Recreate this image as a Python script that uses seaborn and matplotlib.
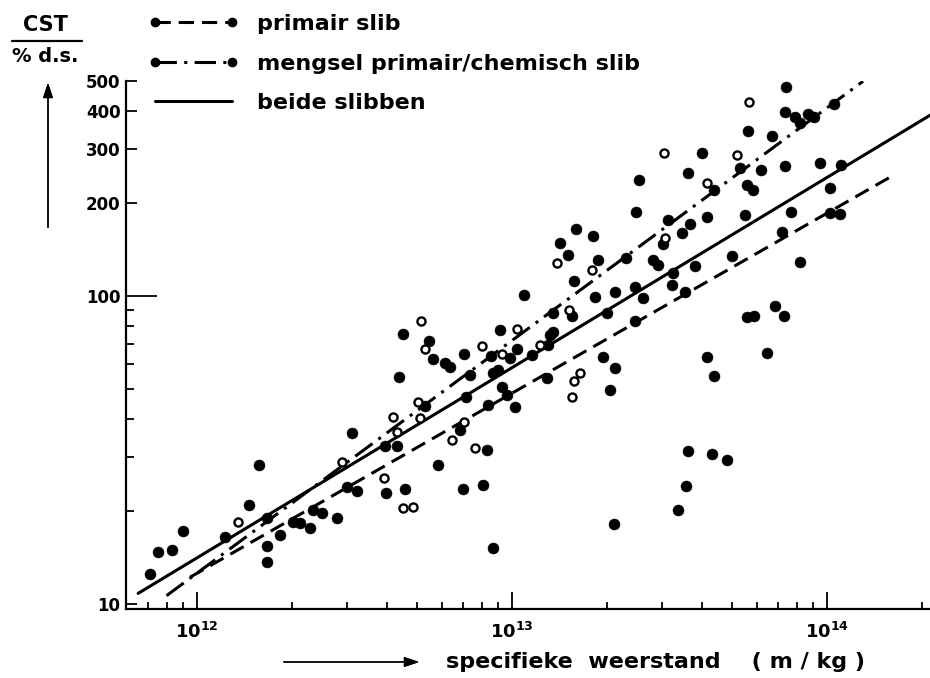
import matplotlib
matplotlib.use("Agg")
import numpy as np
import pandas as pd
import matplotlib.pyplot as plt
from matplotlib.lines import Line2D
from matplotlib.ticker import FixedLocator, FixedFormatter, NullFormatter
import seaborn as sns

# Meetpunten: specifieke weerstand (m/kg) en CST per % d.s. (gevulde punten)
weerstand_vol = [
    7.1e11, 7.5e11, 8.3e11, 9.05e11, 1.23e12, 1.46e12, 1.57e12, 1.67e12, 1.67e12, 1.67e12,
    1.83e12, 2.02e12, 2.12e12, 2.28e12, 2.34e12, 2.49e12, 2.79e12, 3.00e12, 3.21e12, 3.10e12,
    3.97e12, 3.95e12, 4.36e12, 4.31e12, 1.50e13, 1.88e13, 2.30e13, 2.80e13, 2.91e13, 1.57e13,
    1.09e13, 1.83e13, 2.12e13, 2.46e13, 2.61e13, 3.24e13, 3.21e13, 1.35e13, 1.55e13, 2.00e13,
    2.46e13, 4.52e12, 9.16e12, 1.35e13, 1.32e13, 5.46e12, 7.06e12, 8.58e12, 9.86e12, 1.035e13,
    1.155e13, 1.30e13, 5.60e12, 6.13e12, 6.36e12, 1.95e13, 2.12e13, 7.36e12, 8.72e12, 9.05e12,
    1.29e13, 9.28e12, 9.62e12, 7.15e12, 1.02e13, 2.04e13, 5.30e12, 8.41e12, 6.84e12, 8.31e12,
    5.83e12, 4.57e12, 6.98e12, 8.07e12, 2.10e13, 3.37e13, 8.72e12, 7.41e13, 7.36e13, 7.91e13,
    8.21e13, 8.72e13, 9.05e13, 1.05e14, 5.60e13, 6.70e13, 4.02e13, 3.61e13, 4.36e13, 5.30e13,
    6.17e13, 7.36e13, 9.50e13, 1.11e14, 2.53e13, 5.56e13, 5.83e13, 1.02e14, 2.47e13, 5.49e13,
    7.67e13, 3.12e13, 4.15e13, 3.67e13, 3.46e13, 3.02e13, 1.02e14, 1.10e14, 7.18e13, 3.81e13,
    4.98e13, 8.21e13, 3.54e13, 6.84e13, 7.27e13, 5.56e13, 5.87e13, 6.44e13, 4.15e13, 1.59e13,
    1.81e13, 1.42e13, 4.38e13, 3.62e13, 4.31e13, 4.81e13, 3.57e13,
]
cst_vol = [
    12.5, 14.7, 15.0, 17.3, 16.5, 21.0, 28.3, 15.4, 13.7, 19.0,
    16.7, 18.5, 18.3, 17.6, 20.2, 19.7, 19.0, 24.0, 23.2, 35.8,
    23.0, 32.7, 54.7, 32.6, 136, 131, 133, 131, 126, 112,
    101, 99.5, 103, 107, 98.3, 119, 109, 87.9, 86.1, 88.3,
    83.1, 75.3, 77.6, 76.6, 74.7, 71.6, 64.8, 63.9, 62.8, 67.1,
    64.3, 69.3, 62.3, 60.5, 58.7, 63.5, 58.3, 55.4, 56.1, 57.5,
    54.1, 50.8, 47.7, 47.1, 43.5, 49.5, 44.0, 44.3, 36.7, 31.6,
    28.3, 23.6, 23.7, 24.3, 18.2, 20.2, 15.2, 478, 397, 382,
    364, 392, 382, 422, 344, 331, 291, 251, 221, 260,
    257, 264, 270, 266, 238, 229, 221, 224, 188, 183,
    187, 177, 181, 172, 160, 148, 186, 185, 161, 125,
    135, 129, 103, 92.8, 86.1, 85.3, 86.1, 65.4, 63.5, 165,
    157, 149, 55.0, 31.4, 30.7, 29.3, 24.2,
]

# Open punten
weerstand_open = [
    1.35e12, 2.88e12, 3.93e12, 4.18e12, 4.31e12, 1.39e13, 1.79e13, 1.51e13, 5.13e12, 1.035e13,
    5.30e12, 8.05e12, 9.28e12, 1.23e13, 1.57e13, 1.64e13, 1.55e13, 5.01e12, 5.10e12, 7.01e12,
    6.44e12, 7.63e12, 4.52e12, 4.86e12, 5.63e13, 3.04e13, 5.19e13, 4.15e13, 3.06e13,
]
cst_open = [
    18.4, 29.0, 25.6, 40.6, 36.3, 128, 122, 90.1, 83.1, 78.0,
    67.3, 69.0, 64.8, 69.3, 53.1, 56.1, 46.9, 45.4, 40.1, 39.1,
    34.1, 32.0, 20.5, 20.6, 427, 291, 288, 233, 154,
]

# Regressielijnen: CST = c13 * (r / 1e13) ** b, getekend van r_min tot r_max
lijn_namen = ["primair slib", "mengsel primair/chemisch slib", "beide slibben"]
lijn_c13 = [48.4, 71.8, 58.6]
lijn_b = [0.585, 0.756, 0.618]
lijn_rmin = [9.5e11, 8.0e11, 6.5e11]
lijn_rmax = [1.64e14, 1.30e14, 2.3e14]

y_ticks = [10, 100, 200, 300, 400, 500]
y_labels = ["10", "100", "200", "300", "400", "500"]
y_minor = [20, 30, 40, 50, 60, 70, 80, 90]
x_ticks = [1e12, 1e13, 1e14]
x_labels = [r"$\mathbf{10^{12}}$", r"$\mathbf{10^{13}}$", r"$\mathbf{10^{14}}$"]
x_minor = [7e11, 8e11, 9e11] + [m * 1e12 for m in range(2, 10)] + \
          [m * 1e13 for m in range(2, 10)] + [2e14]

sns.set_style("ticks")
plt.rcParams["font.family"] = ["DejaVu Sans"]
plt.rcParams["font.weight"] = "bold"
plt.rcParams["mathtext.fontset"] = "dejavusans"
for key in ("text.color", "axes.labelcolor", "xtick.color", "ytick.color", "axes.edgecolor"):
    plt.rcParams[key] = "black"

W, H = 930, 678
fig = plt.figure(figsize=(W / 100, H / 100), dpi=100)
ax = fig.add_axes([126 / W, 1 - 609 / H, (W - 126) / W, (609 - 81) / H])

lijnstijlen = [(0, (5, 2.6)), (0, (7, 2.4, 1, 2.4)), "-"]
for naam, c13, b, r0, r1, ls in zip(lijn_namen, lijn_c13, lijn_b, lijn_rmin, lijn_rmax, lijnstijlen):
    r = np.array([r0, r1])
    df_l = pd.DataFrame({"r": r, "cst": c13 * (r / 1e13) ** b})
    sns.lineplot(data=df_l, x="r", y="cst", ax=ax, color="black", lw=2.2,
                 linestyle=ls, estimator=None, sort=False, legend=False)

df_vol = pd.DataFrame({"r": weerstand_vol, "cst": cst_vol})
df_open = pd.DataFrame({"r": weerstand_open, "cst": cst_open})
sns.scatterplot(data=df_vol, x="r", y="cst", ax=ax, color="black", s=62,
                edgecolor="black", linewidth=0.4, zorder=3, legend=False)
sns.scatterplot(data=df_open, x="r", y="cst", ax=ax, color="white", s=34,
                edgecolor="black", linewidth=1.7, zorder=3, legend=False)

ax.set_xscale("log")
ax.set_yscale("log")
ax.set_xlim(5.95e11, 2.12e14)
ax.set_ylim(9.63, 500)
ax.set_xlabel("")
ax.set_ylabel("")

ax.yaxis.set_major_locator(FixedLocator(y_ticks))
ax.yaxis.set_major_formatter(FixedFormatter(y_labels))
ax.yaxis.set_minor_locator(FixedLocator(y_minor))
ax.yaxis.set_minor_formatter(NullFormatter())
ax.xaxis.set_major_locator(FixedLocator(x_ticks))
ax.xaxis.set_major_formatter(FixedFormatter(x_labels))
ax.xaxis.set_minor_locator(FixedLocator(x_minor))
ax.xaxis.set_minor_formatter(NullFormatter())

ax.tick_params(axis="both", which="both", direction="in", color="black",
               labelcolor="black", width=1.3)
ax.tick_params(axis="y", which="major", length=8, pad=4, labelsize=12)
ax.tick_params(axis="y", which="minor", length=6)
ax.tick_params(axis="x", which="major", length=12, pad=9, labelsize=13)
ax.tick_params(axis="x", which="minor", length=5)
ax.yaxis.get_major_ticks()[1].tick1line.set_markersize(22)

sns.despine(ax=ax)
for s in ("left", "bottom"):
    ax.spines[s].set_linewidth(1.6)
    ax.spines[s].set_color("black")

# Legenda met punten aan beide uiteinden van de lijn
handles = [
    Line2D([], [], color="black", lw=2.2, linestyle=lijnstijlen[0], marker="o", ms=6),
    Line2D([], [], color="black", lw=2.2, linestyle=lijnstijlen[1], marker="o", ms=6),
    Line2D([], [], color="black", lw=2.2, linestyle=lijnstijlen[2]),
]
fig.legend(handles, lijn_namen, loc="upper left", bbox_to_anchor=(148 / W, 1 - 14 / H),
           frameon=False, numpoints=2, handlelength=4.1, handletextpad=0.8,
           labelspacing=0.88, fontsize=16, borderpad=0, borderaxespad=0,
           labelcolor="black")

# Aslabel y als breuk met pijl
fig.text(45 / W, 1 - 25 / H, "CST", ha="center", va="center", fontsize=15)
fig.add_artist(Line2D([12 / W, 82 / W], [1 - 41 / H, 1 - 41 / H], color="black", lw=1.6))
fig.text(45 / W, 1 - 57 / H, "% d.s.", ha="center", va="center", fontsize=14)
fig.add_artist(plt.annotate("", xy=(48 / W, 1 - 80 / H), xytext=(48 / W, 1 - 230 / H),
                            xycoords="figure fraction",
                            arrowprops=dict(arrowstyle="-|>,head_length=0.9,head_width=0.3",
                                            color="black", lw=1.0)))

# Aslabel x met pijl
fig.add_artist(plt.annotate("", xy=(422 / W, 1 - 662 / H), xytext=(281 / W, 1 - 662 / H),
                            xycoords="figure fraction",
                            arrowprops=dict(arrowstyle="-|>,head_length=0.9,head_width=0.3",
                                            color="black", lw=1.0)))
fig.text(446 / W, 1 - 662 / H, "specifieke  weerstand    ( m / kg )",
         ha="left", va="center", fontsize=16)

fig.savefig("out.png", dpi=100)
